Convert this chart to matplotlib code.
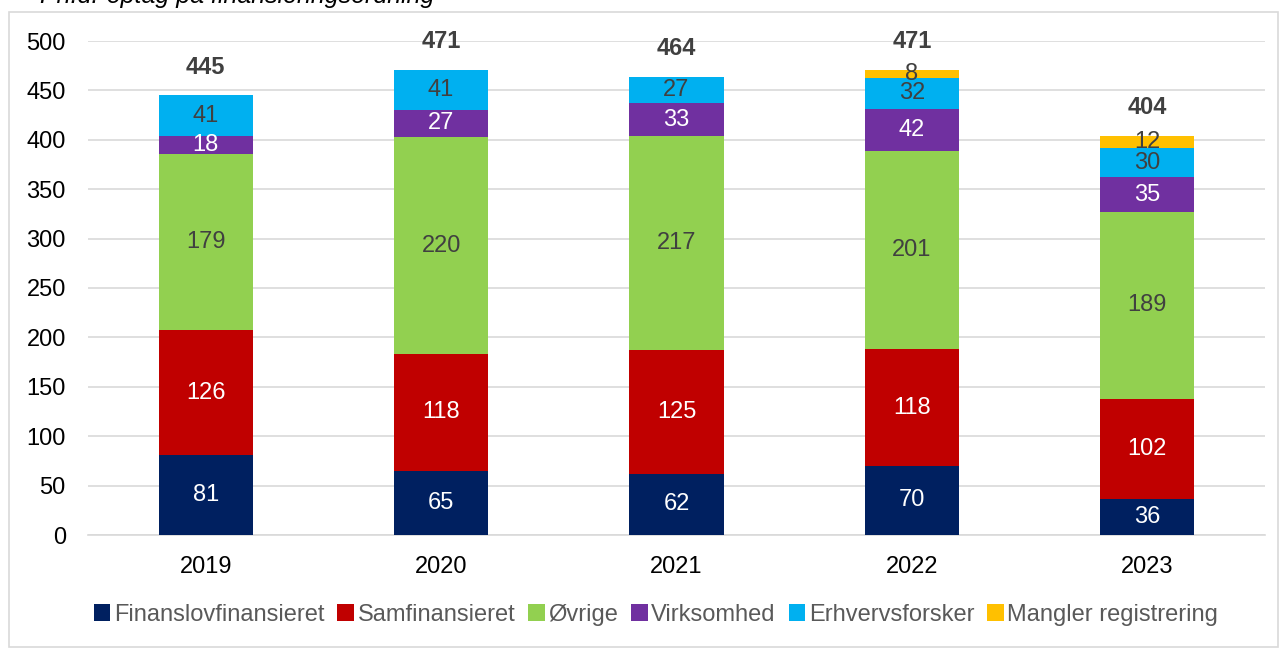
import matplotlib
matplotlib.use("Agg")
import matplotlib.pyplot as plt
import numpy as np
from matplotlib.patches import Rectangle

plt.rcParams['font.family'] = ['Liberation Sans', 'DejaVu Sans']

years = ["2019", "2020", "2021", "2022", "2023"]
finanslov = [81, 65, 62, 70, 36]
samfin = [126, 118, 125, 118, 102]
ovrige = [179, 220, 217, 201, 189]
virksomhed = [18, 27, 33, 42, 35]
erhverv = [41, 41, 27, 32, 30]
mangler = [0, 0, 0, 8, 12]
totals = [445, 471, 464, 471, 404]

series = [
    ("Finanslovfinansieret", finanslov, "#002060", "white"),
    ("Samfinansieret", samfin, "#C00000", "white"),
    ("Øvrige", ovrige, "#92D050", "#404040"),
    ("Virksomhed", virksomhed, "#7030A0", "white"),
    ("Erhvervsforsker", erhverv, "#00B0F0", "#404040"),
    ("Mangler registrering", mangler, "#FFC000", "#404040"),
]

W, H = 1285, 648
fig = plt.figure(figsize=(W / 100, H / 100), dpi=100)
ax = fig.add_axes([88 / W, 1 - 535 / H, (1265 - 88) / W, (535 - 41) / H])

# border frame
fig.patches.append(Rectangle((9 / W, 1 / H), (1278 - 9) / W, (636 - 1) / H,
                             transform=fig.transFigure, fill=False,
                             edgecolor="#D9D9D9", linewidth=1.2))
fig.text(40 / W, 1 - 3 / H, "Ph.d.-optag på finansieringsordning", fontsize=18,
         style='italic', color="#000000", va='baseline', ha='left')

x = np.arange(len(years))
bottom = np.zeros(len(years))
for name, vals, col, tcol in series:
    vals = np.array(vals, dtype=float)
    ax.bar(x, vals, 0.4, bottom=bottom, color=col, label=name, zorder=3)
    for i, v in enumerate(vals):
        if v > 0:
            ax.text(x[i], bottom[i] + v / 2, f"{int(v)}", ha='center', va='center',
                    fontsize=17, color=tcol, zorder=4)
    bottom += vals

for i, t in enumerate(totals):
    ax.annotate(f"{t}", (x[i], t), xytext=(0, 12), textcoords='offset points',
                ha='center', va='bottom', fontsize=17, fontweight='bold', color="#404040")

ax.set_ylim(0, 500)
ax.set_xlim(-0.5, 4.5)
ax.set_yticks(range(0, 501, 50))
ax.set_xticks(x)
ax.set_xticklabels(years)
ax.tick_params(axis='both', labelsize=17, colors="#000000", length=0)
ax.tick_params(axis='y', pad=16)
ax.tick_params(axis='x', pad=15)
ax.yaxis.grid(True, color="#D9D9D9", linewidth=1.2, zorder=0)
for s in ["top", "right", "left"]:
    ax.spines[s].set_visible(False)
ax.spines["bottom"].set_color("#D9D9D9")
ax.spines["bottom"].set_linewidth(1.2)

leg = fig.legend(loc='center', bbox_to_anchor=(656 / W, 1 - 615 / H), ncol=6,
                 frameon=False, fontsize=17, handlelength=0.7, handleheight=0.7,
                 handletextpad=0.15, columnspacing=0.55)
for t in leg.get_texts():
    t.set_color("#595959")

fig.savefig("out.png", dpi=100)
